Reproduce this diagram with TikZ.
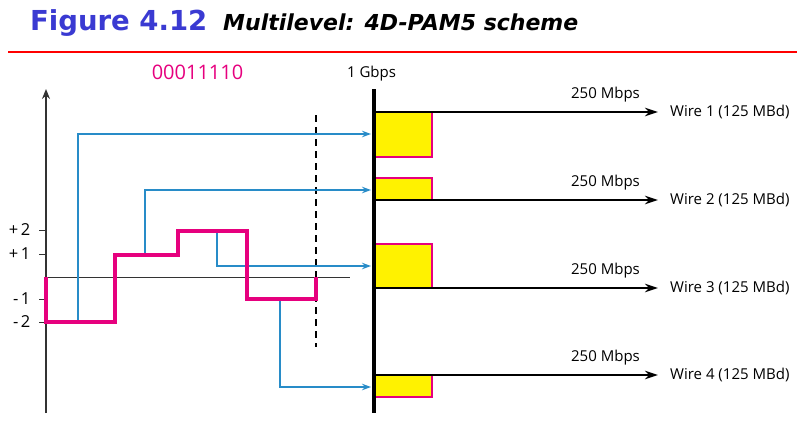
\documentclass[tikz,border=0pt]{standalone}
\usepackage{fontspec}
\setmainfont{Open Sans}
\newfontfamily\titlefont{DejaVu Sans}
\usetikzlibrary{arrows.meta}
\definecolor{mag}{RGB}{230,0,126}
\definecolor{sigblue}{RGB}{40,140,200}
\definecolor{titleblue}{RGB}{58,58,210}
\definecolor{axisgray}{RGB}{51,51,51}
\tikzset{
  txt/.style={inner sep=0pt, font=\fontsize{15}{18}\selectfont},
  axlab/.style={inner sep=0pt, font=\fontsize{16.5}{19}\selectfont, anchor=east},
  signal/.style={mag, line width=3.2pt, line join=miter},
  feed/.style={sigblue, line width=1.3pt, -{Stealth[length=9pt,width=6.5pt]}},
  wire/.style={black, line width=1.8pt, -{Stealth[length=13pt,width=8.5pt]}},
  bufedge/.style={mag, line width=1.6pt},
  tick/.style={axisgray, line width=1pt},
}
\begin{document}
\begin{tikzpicture}[x=1pt,y=-1pt]
\useasboundingbox (0,0) rectangle (805,426);
% title
\node[anchor=base west, inner sep=0pt, text=titleblue, font=\titlefont\bfseries\fontsize{27.5}{30}\selectfont] (fig) at (30,30) {Figure 4.12};
\node[anchor=base west, inner sep=0pt, font=\titlefont\bfseries\itshape\fontsize{22}{26}\selectfont] (ttl) at (223,30) {Multilevel: 4D-PAM5 scheme};
\draw[red, line width=2.2pt] (8,52) -- (797,52);

% labels top
\node[txt, text=mag, font=\fontsize{20}{24}\selectfont] (bits) at (197.5,72) {00011110};
\node[txt] (gbps) at (371.5,74) {1 Gbps};

% axes
\coordinate (ax0) at (46,413);
\coordinate (ax1) at (46,89);
\draw[axisgray, line width=1.2pt, -{Stealth[length=10pt,width=8pt]}] (ax0) -- (ax1);
\coordinate (z0) at (46,277);
\coordinate (z1) at (350,277);
\draw[axisgray, line width=1pt] (z0) -- (z1);
\foreach \yy/\lab in {230/{+\kern2.5pt2}, 254/{+\kern2.5pt1}, 299/{-\kern2.5pt1}, 322/{-\kern2.5pt2}}{
  \draw[tick] (39,\yy) -- (46,\yy);
  \node[axlab] at (30.5,\yy) {\lab};
}

% dashed line
\coordinate (d0) at (316,115);
\coordinate (d1) at (316,347);
\draw[black, line width=1.2pt, dash pattern=on 7pt off 5pt] (d0) -- (d1);

% buffers
\fill[yellow] (376,112) rectangle (432,157);
\draw[bufedge] (432,112) -- (432,157) -- (376,157);
\fill[yellow] (376,178) rectangle (432,200);
\draw[bufedge] (376,178) -- (432,178) -- (432,200);
\fill[yellow] (376,244) rectangle (432,288);
\draw[bufedge] (376,244) -- (432,244) -- (432,288);
\fill[yellow] (376,375) rectangle (432,397);
\draw[bufedge] (432,375) -- (432,397) -- (376,397);

% blue feeds
\coordinate (s1) at (78,322);   \coordinate (t1) at (371,134);
\coordinate (s2) at (145,255);  \coordinate (t2) at (371,190);
\coordinate (s3) at (217,231);  \coordinate (t3) at (371,266);
\coordinate (s4) at (280,299);  \coordinate (t4) at (371,387);
\draw[feed] (s1) |- (t1);
\draw[feed] (s2) |- (t2);
\draw[feed] (s3) |- (t3);
\draw[feed] (s4) |- (t4);

% signal
\draw[signal] (46,277) -- (46,322) -- (115,322) -- (115,255) -- (178,255) -- (178,231) -- (247,231) -- (247,299) -- (316,299) -- (316,277);

% wires
\foreach \i/\yy in {1/112, 2/200, 3/288, 4/375}{
  \coordinate (ws\i) at (376,\yy);
  \coordinate (we\i) at (658,\yy);
  \draw[wire] (ws\i) -- (we\i);
  \node[txt] (rate\i) at (605.5,\yy-17) {250 Mbps};
  \node[txt, anchor=west] (wl\i) at (670,\yy) {Wire \i{} (125 MBd)};
}

% bar
\coordinate (b0) at (374,89);
\coordinate (b1) at (374,413);
\draw[black, line width=4.5pt] (b0) -- (b1);
\end{tikzpicture}
\end{document}
